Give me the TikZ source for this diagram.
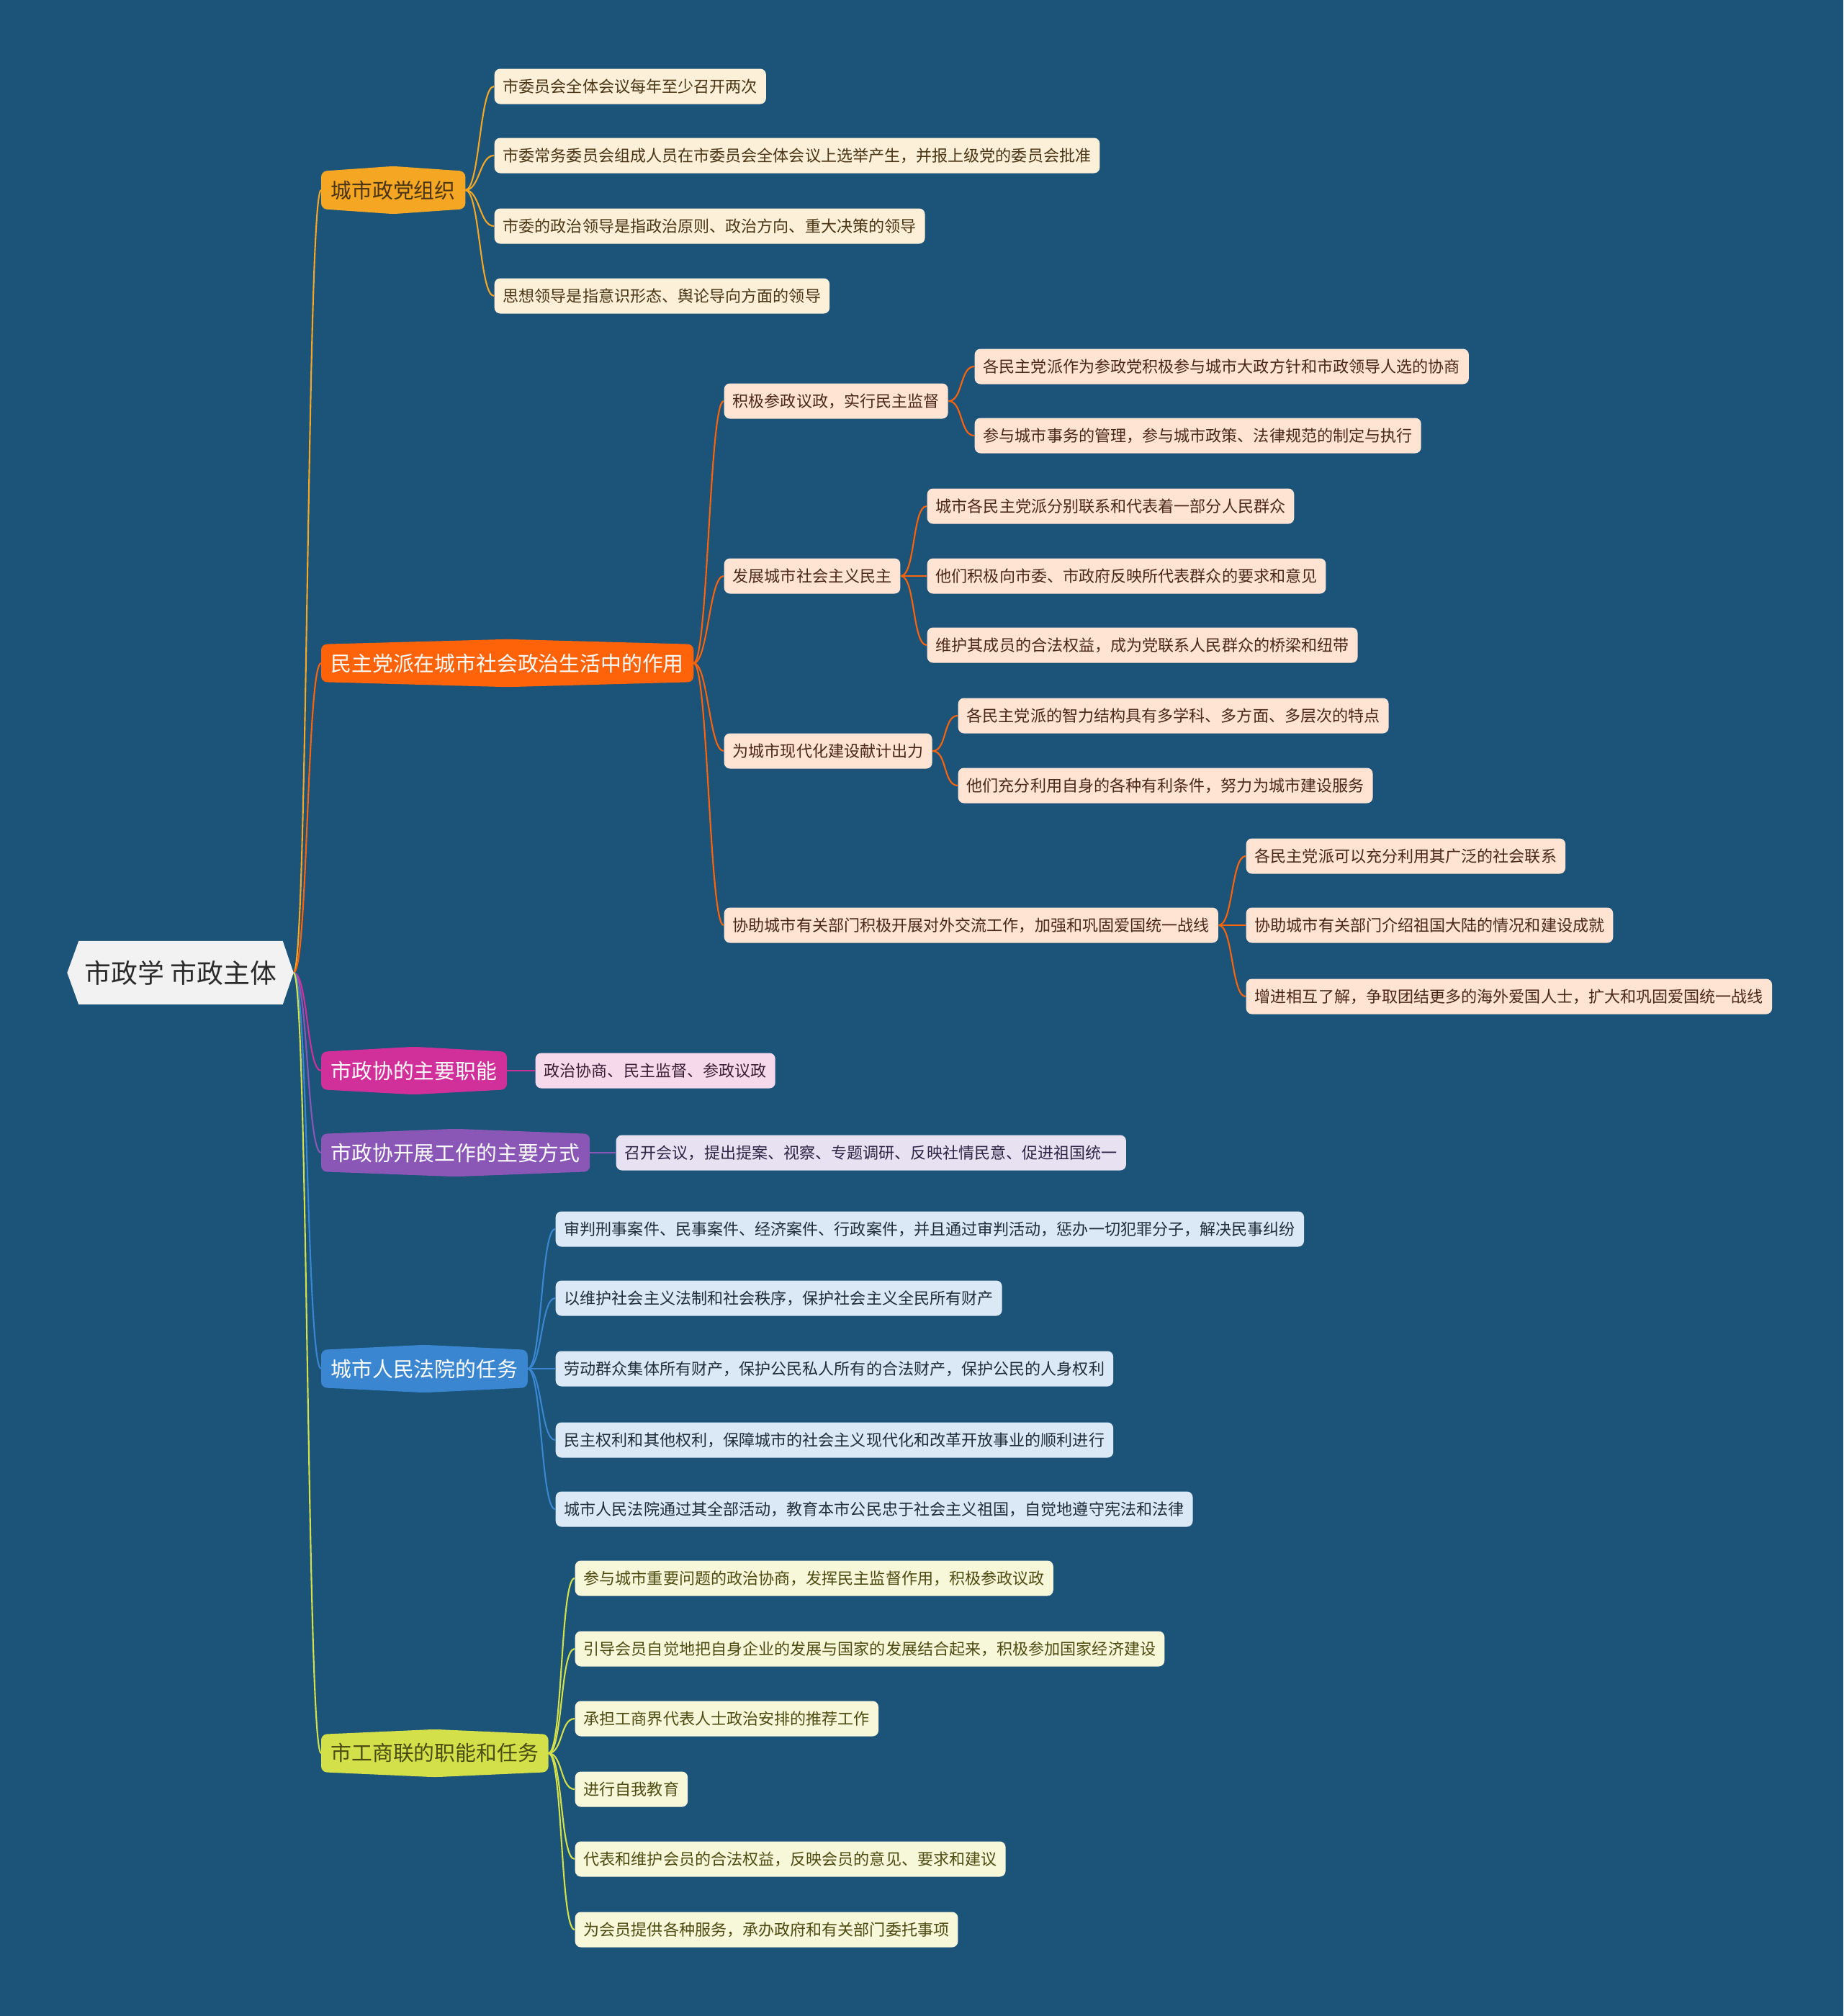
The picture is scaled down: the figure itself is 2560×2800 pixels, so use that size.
\documentclass[tikz,border=0pt]{standalone}
\usepackage{fontspec}
\setmainfont{Noto Sans CJK SC}
\usetikzlibrary{calc}

\definecolor{bgblue}{HTML}{1B5379}
\definecolor{rootfill}{HTML}{F2F2F2}
\definecolor{roottext}{HTML}{2B2B2B}
% main topics
\definecolor{goldtopic}{HTML}{F5A623}
\definecolor{orangetopic}{HTML}{FF6309}
\definecolor{pinktopic}{HTML}{D1309A}
\definecolor{purpletopic}{HTML}{8A57B7}
\definecolor{bluetopic}{HTML}{3A86D0}
\definecolor{limetopic}{HTML}{D3E049}
% sub topics
\definecolor{goldleaf}{HTML}{FDF0D9}
\definecolor{orangeleaf}{HTML}{FFE3D3}
\definecolor{pinkleaf}{HTML}{F6DAEC}
\definecolor{purpleleaf}{HTML}{E7E1F2}
\definecolor{blueleaf}{HTML}{DBE9F6}
\definecolor{limeleaf}{HTML}{F7F7DA}
\definecolor{goldtext}{HTML}{4A3515}
\definecolor{orangetext}{HTML}{4A2818}
\definecolor{pinktext}{HTML}{3C1F35}
\definecolor{purpletext}{HTML}{2E2545}
\definecolor{bluetext}{HTML}{1F2D3A}
\definecolor{limetext}{HTML}{4C4C12}

\pgfdeclarelayer{bglayer}
\pgfdeclarelayer{edgelayer}
\pgfdeclarelayer{shapelayer}
\pgfsetlayers{bglayer,edgelayer,shapelayer,main}

\newcommand{\topicshape}[2]{%
  \fill[#2,rounded corners=0.8mm] (#1.north west) -- ($(#1.north)+(0,-7)$) -- (#1.north east)
    -- (#1.south east) -- ($(#1.south)+(0,7)$) -- (#1.south west) -- cycle;}

\begin{document}
\begin{tikzpicture}[x=0.1mm,y=-0.1mm]
\tikzset{
  rootnode/.style={minimum width=28.2mm,minimum height=8.7mm,inner sep=0pt,text=roottext,font=\fontsize{10.5pt}{12pt}\selectfont},
  topicnode/.style={anchor=west,minimum height=5.1mm,inner xsep=1.3mm,inner ysep=0pt,font=\fontsize{8.2pt}{10pt}\selectfont},
  leafnode/.style={anchor=west,rounded corners=0.8mm,minimum height=4.9mm,inner xsep=1.2mm,inner ysep=0pt,font=\fontsize{6.28pt}{8pt}\selectfont},
  partyleaf/.style={leafnode,fill=goldleaf,text=goldtext},
  demleaf/.style={leafnode,fill=orangeleaf,text=orangetext},
  cppccleaf/.style={leafnode,fill=pinkleaf,text=pinktext},
  workleaf/.style={leafnode,fill=purpleleaf,text=purpletext},
  courtleaf/.style={leafnode,fill=blueleaf,text=bluetext},
  fedleaf/.style={leafnode,fill=limeleaf,text=limetext},
  link/.style={draw=#1,line width=0.6pt},
  softbend/.style={out=0,in=180,distance=2mm}
}
\begin{pgfonlayer}{bglayer}
\fill[bgblue] (0,0) rectangle (2560,2800);
\end{pgfonlayer}
\useasboundingbox (0,0) rectangle (2560,2800);

% root
\node[rootnode] (n_root) at (251,1351) {市政学 市政主体};
\coordinate (n_tip) at ($(n_root.east)+(15,0)$);

% main topics
\node[topicnode,text=goldtext] (n_party) at (446,264) {城市政党组织};
\node[topicnode,text=white] (n_dem) at (446,921) {民主党派在城市社会政治生活中的作用};
\node[topicnode,text=white] (n_cppcc) at (446,1487) {市政协的主要职能};
\node[topicnode,text=white] (n_work) at (446,1601) {市政协开展工作的主要方式};
\node[topicnode,text=white] (n_court) at (446,1901) {城市人民法院的任务};
\node[topicnode,text=limetext] (n_fed) at (446,2435) {市工商联的职能和任务};

% party
\node[partyleaf] (n_party1) at (686,120) {市委员会全体会议每年至少召开两次};
\node[partyleaf] (n_party2) at (686,216) {市委常务委员会组成人员在市委员会全体会议上选举产生，并报上级党的委员会批准};
\node[partyleaf] (n_party3) at (686,314) {市委的政治领导是指政治原则、政治方向、重大决策的领导};
\node[partyleaf] (n_party4) at (686,411) {思想领导是指意识形态、舆论导向方面的领导};

% democratic parties
\node[demleaf] (n_dem1) at (1005,557) {积极参政议政，实行民主监督};
\node[demleaf] (n_dem2) at (1005,800) {发展城市社会主义民主};
\node[demleaf] (n_dem3) at (1005,1043) {为城市现代化建设献计出力};
\node[demleaf] (n_dem4) at (1005,1285) {协助城市有关部门积极开展对外交流工作，加强和巩固爱国统一战线};
\node[demleaf] (n_dem1a) at (1353,509) {各民主党派作为参政党积极参与城市大政方针和市政领导人选的协商};
\node[demleaf] (n_dem1b) at (1353,605) {参与城市事务的管理，参与城市政策、法律规范的制定与执行};
\node[demleaf] (n_dem2a) at (1287,703) {城市各民主党派分别联系和代表着一部分人民群众};
\node[demleaf] (n_dem2b) at (1287,800) {他们积极向市委、市政府反映所代表群众的要求和意见};
\node[demleaf] (n_dem2c) at (1287,896) {维护其成员的合法权益，成为党联系人民群众的桥梁和纽带};
\node[demleaf] (n_dem3a) at (1330,994) {各民主党派的智力结构具有多学科、多方面、多层次的特点};
\node[demleaf] (n_dem3b) at (1330,1091) {他们充分利用自身的各种有利条件，努力为城市建设服务};
\node[demleaf] (n_dem4a) at (1730,1189) {各民主党派可以充分利用其广泛的社会联系};
\node[demleaf] (n_dem4b) at (1730,1285) {协助城市有关部门介绍祖国大陆的情况和建设成就};
\node[demleaf] (n_dem4c) at (1730,1384) {增进相互了解，争取团结更多的海外爱国人士，扩大和巩固爱国统一战线};

% cppcc
\node[cppccleaf] (n_cppcc1) at (743,1487) {政治协商、民主监督、参政议政};
\node[workleaf] (n_work1) at (855,1601) {召开会议，提出提案、视察、专题调研、反映社情民意、促进祖国统一};

% court
\node[courtleaf] (n_court1) at (771,1707) {审判刑事案件、民事案件、经济案件、行政案件，并且通过审判活动，惩办一切犯罪分子，解决民事纠纷};
\node[courtleaf] (n_court2) at (771,1803) {以维护社会主义法制和社会秩序，保护社会主义全民所有财产};
\node[courtleaf] (n_court3) at (771,1901) {劳动群众集体所有财产，保护公民私人所有的合法财产，保护公民的人身权利};
\node[courtleaf] (n_court4) at (771,2000) {民主权利和其他权利，保障城市的社会主义现代化和改革开放事业的顺利进行};
\node[courtleaf] (n_court5) at (771,2096) {城市人民法院通过其全部活动，教育本市公民忠于社会主义祖国，自觉地遵守宪法和法律};

% federation
\node[fedleaf] (n_fed1) at (798,2192) {参与城市重要问题的政治协商，发挥民主监督作用，积极参政议政};
\node[fedleaf] (n_fed2) at (798,2290) {引导会员自觉地把自身企业的发展与国家的发展结合起来，积极参加国家经济建设};
\node[fedleaf] (n_fed3) at (798,2387) {承担工商界代表人士政治安排的推荐工作};
\node[fedleaf] (n_fed4) at (798,2485) {进行自我教育};
\node[fedleaf] (n_fed5) at (798,2582) {代表和维护会员的合法权益，反映会员的意见、要求和建议};
\node[fedleaf] (n_fed6) at (798,2680) {为会员提供各种服务，承办政府和有关部门委托事项};

\begin{pgfonlayer}{shapelayer}
\fill[rootfill] ($(n_root.west)+(-16,0)$) -- (n_root.north west) -- (n_root.north east) -- (n_tip)
  -- (n_root.south east) -- (n_root.south west) -- cycle;
\topicshape{n_party}{goldtopic}
\topicshape{n_dem}{orangetopic}
\topicshape{n_cppcc}{pinktopic}
\topicshape{n_work}{purpletopic}
\topicshape{n_court}{bluetopic}
\topicshape{n_fed}{limetopic}
\end{pgfonlayer}

\begin{pgfonlayer}{edgelayer}
\draw[link=goldtopic] (n_tip) to[softbend] (n_party.west);
\draw[link=orangetopic] (n_tip) to[softbend] (n_dem.west);
\draw[link=pinktopic] (n_tip) to[softbend] (n_cppcc.west);
\draw[link=purpletopic] (n_tip) to[softbend] (n_work.west);
\draw[link=bluetopic] (n_tip) to[softbend] (n_court.west);
\draw[link=limetopic] (n_tip) to[softbend] (n_fed.west);
\foreach \i in {1,...,4}
  \draw[link=goldtopic] (n_party.east) to[softbend] (n_party\i.west);
\foreach \i in {1,...,4}
  \draw[link=orangetopic] (n_dem.east) to[softbend] (n_dem\i.west);
\draw[link=orangetopic] (n_dem1.east) to[softbend] (n_dem1a.west);
\draw[link=orangetopic] (n_dem1.east) to[softbend] (n_dem1b.west);
\draw[link=orangetopic] (n_dem2.east) to[softbend] (n_dem2a.west);
\draw[link=orangetopic] (n_dem2.east) to[softbend] (n_dem2b.west);
\draw[link=orangetopic] (n_dem2.east) to[softbend] (n_dem2c.west);
\draw[link=orangetopic] (n_dem3.east) to[softbend] (n_dem3a.west);
\draw[link=orangetopic] (n_dem3.east) to[softbend] (n_dem3b.west);
\draw[link=orangetopic] (n_dem4.east) to[softbend] (n_dem4a.west);
\draw[link=orangetopic] (n_dem4.east) to[softbend] (n_dem4b.west);
\draw[link=orangetopic] (n_dem4.east) to[softbend] (n_dem4c.west);
\draw[link=pinktopic] (n_cppcc.east) -- (n_cppcc1.west);
\draw[link=purpletopic] (n_work.east) -- (n_work1.west);
\foreach \i in {1,...,5}
  \draw[link=bluetopic] (n_court.east) to[softbend] (n_court\i.west);
\foreach \i in {1,...,6}
  \draw[link=limetopic] (n_fed.east) to[softbend] (n_fed\i.west);
\end{pgfonlayer}
\end{tikzpicture}
\end{document}
